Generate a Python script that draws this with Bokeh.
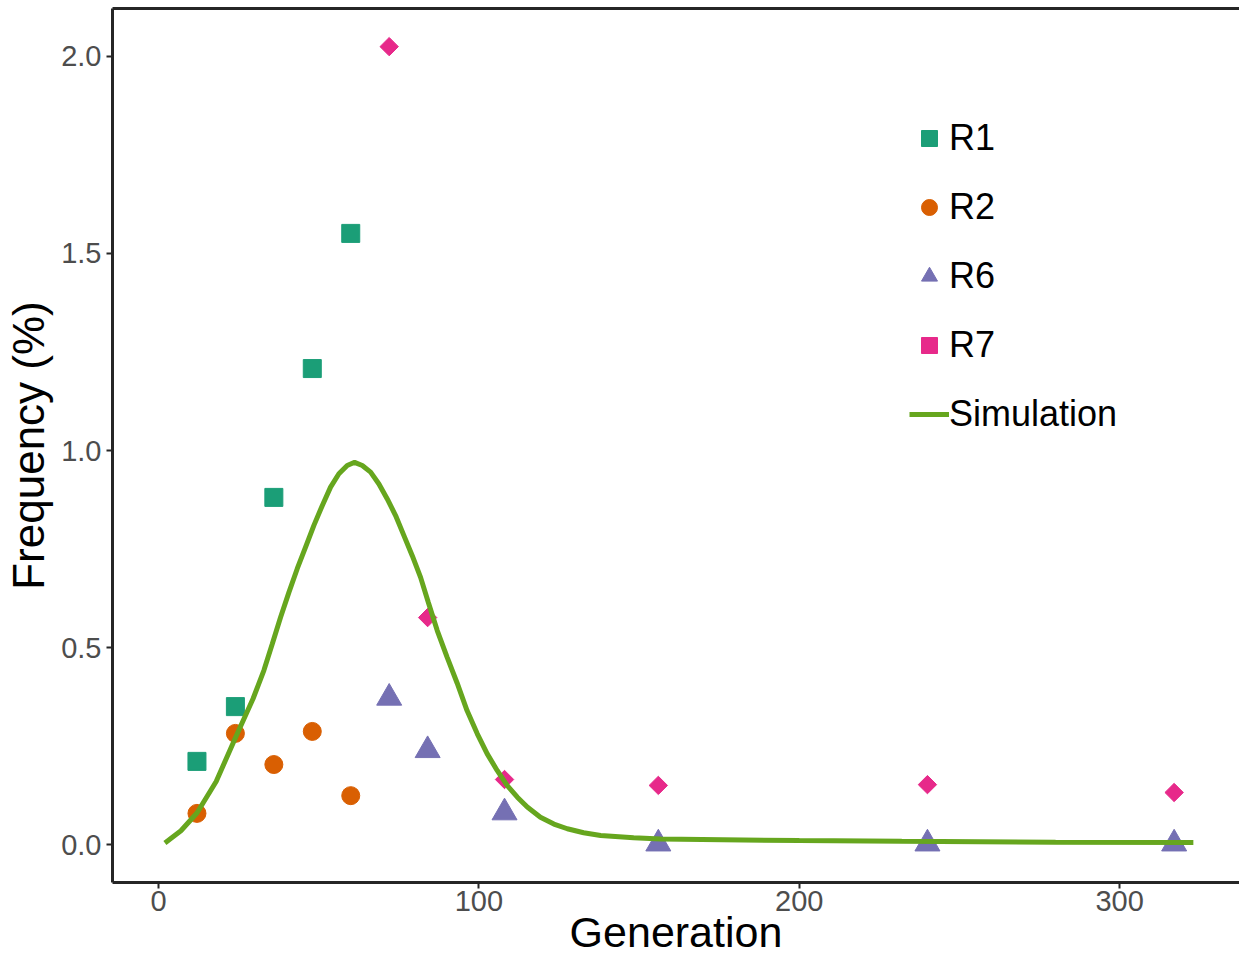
import math
from bokeh.plotting import figure
from bokeh.models import Range1d, LinearAxis, FixedTicker, Legend, LegendItem, NumeralTickFormatter
from bokeh.embed import file_html
from bokeh.resources import INLINE

# ---- data ----
gen_r1 = [12, 24, 36, 48, 60]
freq_r1 = [0.211, 0.350, 0.881, 1.208, 1.551]
gen_r2 = [12, 24, 36, 48, 60]
freq_r2 = [0.079, 0.282, 0.203, 0.287, 0.124]
gen_r6 = [72, 84, 108, 156, 240, 317]
freq_r6 = [0.372, 0.239, 0.081, 0.002, 0.002, 0.002]
gen_r7 = [72, 84, 108, 156, 240, 317]
freq_r7 = [2.025, 0.576, 0.165, 0.150, 0.152, 0.132]
sim_gen = [2, 7, 12, 18, 24.5, 29.5, 32.9, 35.5, 38.1, 40.7, 43.3, 45.9, 48.5,
           51.1, 53.7, 56.3, 58.9, 61.2, 63.6, 66.2, 68.8, 71.4, 74.0, 76.6,
           79.2, 81.8, 84.2, 87.0, 90.1, 93.2, 96.3, 99.5, 102.6, 105.7, 108.8,
           112, 115.1, 119.2, 123.4, 127.6, 132.7, 138, 148.3, 156.7, 200, 232,
           280, 323]
sim_freq = [0.004, 0.035, 0.08, 0.16, 0.28, 0.37, 0.442, 0.509, 0.577, 0.640,
            0.700, 0.755, 0.810, 0.860, 0.907, 0.941, 0.962, 0.970, 0.962, 0.945,
            0.915, 0.877, 0.835, 0.784, 0.733, 0.678, 0.615, 0.543, 0.475, 0.41,
            0.34, 0.281, 0.230, 0.188, 0.150, 0.120, 0.095, 0.069, 0.052, 0.040,
            0.030, 0.023, 0.017, 0.014, 0.010, 0.008, 0.006, 0.005]
x_ticks = [0, 100, 200, 300]
y_ticks = [0.0, 0.5, 1.0, 1.5, 2.0]
series_names = ["R1", "R2", "R6", "R7", "Simulation"]
colors = ["#1B9E77", "#D95F02", "#7570B3", "#E7298A", "#66A61E"]

FONT = "Liberation Sans"
AX = "#262626"

p = figure(width=1239, height=959, output_backend="svg", toolbar_location=None,
           x_range=Range1d(-14.36, 337.4), y_range=Range1d(-0.0964, 2.1218),
           min_border_left=112, min_border_right=0, min_border_top=8,
           min_border_bottom=77,
           x_axis_label="Generation", y_axis_label="Frequency (%)")
p.outline_line_color = None
p.xgrid.visible = False
p.ygrid.visible = False
p.background_fill_color = "white"
p.border_fill_color = "white"

for ax in (p.xaxis[0], p.yaxis[0]):
    ax.axis_line_width = 3
    ax.axis_line_color = AX
    ax.major_tick_line_color = AX
    ax.major_tick_line_width = 2
    ax.major_tick_out = 6
    ax.major_tick_in = 0
    ax.minor_tick_line_color = None
    ax.major_label_text_font = FONT
    ax.major_label_text_font_size = "29px"
    ax.major_label_text_color = "#4D4D4D"
    ax.axis_label_text_font = FONT
    ax.axis_label_text_font_style = "normal"
    ax.axis_label_text_color = "black"

p.xaxis[0].axis_label_text_font_size = "43px"
p.yaxis[0].axis_label_text_font_size = "44px"
p.xaxis[0].ticker = FixedTicker(ticks=x_ticks)
p.yaxis[0].ticker = FixedTicker(ticks=y_ticks)
p.yaxis[0].formatter = NumeralTickFormatter(format="0.0")
p.xaxis[0].major_label_standoff = 2
p.xaxis[0].axis_label_standoff = -6
p.yaxis[0].major_label_standoff = 5
p.yaxis[0].axis_label_standoff = 5

top = LinearAxis(ticker=FixedTicker(ticks=[]), axis_line_width=3, axis_line_color=AX,
                 major_tick_out=0, major_tick_in=0, minor_tick_out=0, minor_tick_in=0,
                 major_label_standoff=0, major_label_text_font_size="0px")
p.add_layout(top, "above")

r1 = p.scatter(gen_r1, freq_r1, marker="square", size=18, color=colors[0])
r2 = p.scatter(gen_r2, freq_r2, marker="circle", size=18, color=colors[1])
r6 = p.scatter(gen_r6, freq_r6, marker="triangle", size=25, color=colors[2])
r7 = p.scatter(gen_r7, freq_r7, marker="square", angle=math.pi / 4, size=13, color=colors[3])
sim = p.line(sim_gen, sim_freq, line_width=5, color=colors[4])

legend = Legend(items=[LegendItem(label=n, renderers=[r]) for n, r in
                       zip(series_names, [r1, r2, r6, r7, sim])],
                location=(797, 447))
legend.border_line_color = None
legend.background_fill_alpha = 0
legend.padding = 0
legend.margin = 0
legend.glyph_width = 40
legend.glyph_height = 40
legend.label_height = 40
legend.spacing = 27
legend.label_standoff = 0
legend.label_text_font = FONT
legend.label_text_font_size = "36px"
legend.label_text_color = "black"
p.add_layout(legend, "center")

open("out.html", "w").write(file_html(p, INLINE))
